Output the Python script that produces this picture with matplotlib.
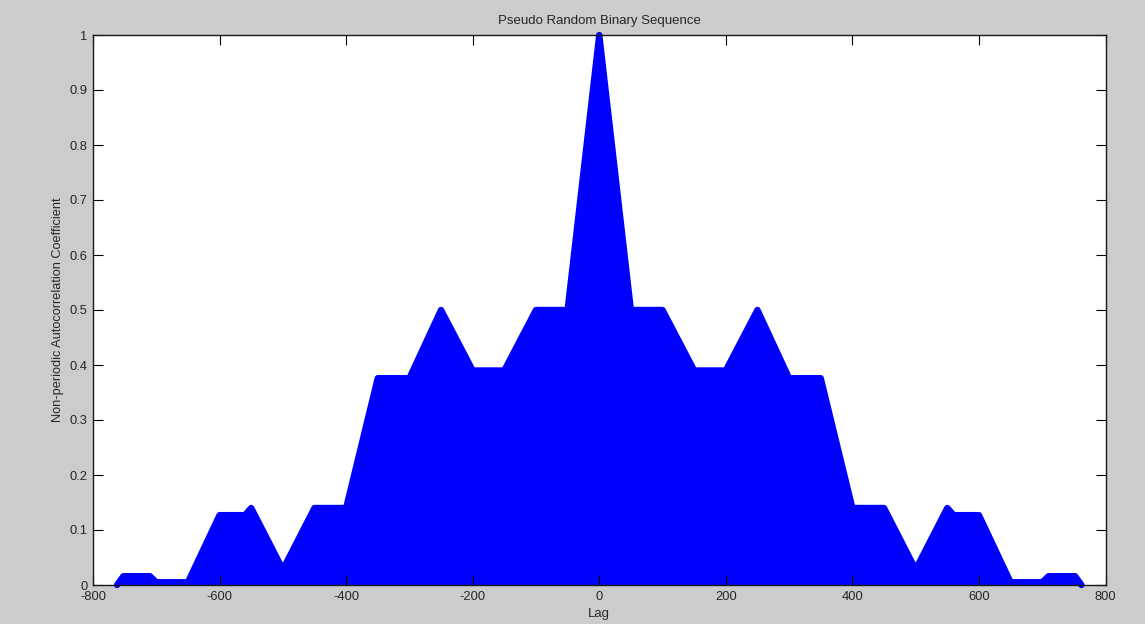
import matplotlib
matplotlib.use("Agg")
import matplotlib.pyplot as plt
import numpy as np

# Envelope breakpoints of the (symmetric) autocorrelation, positive lags
lag_bp = [0, 50, 100, 150, 200, 250, 300, 350, 400, 450, 500, 550, 560, 600, 650, 700, 710, 752, 762]
val_bp = [1.0, 0.5, 0.5, 0.39, 0.39, 0.5, 0.376, 0.376, 0.14, 0.14, 0.028, 0.14, 0.127, 0.127, 0.005, 0.005, 0.016, 0.016, 0.0]

x_ticks = [-800, -600, -400, -200, 0, 200, 400, 600, 800]
y_ticks = [0, 0.1, 0.2, 0.3, 0.4, 0.5, 0.6, 0.7, 0.8, 0.9, 1.0]
y_ticklabels = ["0", "0.1", "0.2", "0.3", "0.4", "0.5", "0.6", "0.7", "0.8", "0.9", "1"]

title = "Pseudo Random Binary Sequence"
xlabel = "Lag"
ylabel = "Non-periodic Autocorrelation Coefficient"

plt.rcParams['font.family'] = ['Liberation Sans', 'DejaVu Sans']

lags = np.concatenate([-np.array(lag_bp[:0:-1]), np.array(lag_bp)])
vals = np.concatenate([np.array(val_bp[:0:-1]), np.array(val_bp)])

fig = plt.figure(figsize=(11.45, 6.24), dpi=100, facecolor='#cccccc')
ax = fig.add_axes([93/1145, 1 - 585/624, (1105.5 - 93)/1145, (585 - 35)/624])
ax.set_facecolor('white')

blue = '#0000ff'
ax.fill_between(lags, vals, 0, color=blue, lw=0)
ax.plot(lags, vals, color=blue, lw=4.6, solid_capstyle='round',
        solid_joinstyle='round', clip_on=False, zorder=3)
ax.plot([lags[0], lags[-1]], [0, 0], color=blue, lw=1, zorder=3)

ax.set_xlim(-800, 800)
ax.set_ylim(0, 1)
ax.set_xticks(x_ticks)
ax.set_xticklabels([str(t) for t in x_ticks])
ax.set_yticks(y_ticks)
ax.set_yticklabels(y_ticklabels)
ax.tick_params(direction='in', length=7, width=0.8, top=True, right=True,
               labelsize=9.3, labelcolor='#262626')
ax.tick_params(axis='x', pad=4)
ax.tick_params(axis='y', pad=4)
for s in ax.spines.values():
    s.set_linewidth(1.0)
    s.set_color('#1a1a1a')
    s.set_zorder(4)

ax.set_title(title, fontsize=9.5, color='#262626', pad=8)
ax.set_xlabel(xlabel, fontsize=9.5, color='#262626', labelpad=4)
ax.set_ylabel(ylabel, fontsize=9.2, color='#262626', labelpad=4)

fig.savefig("out.png", dpi=100, facecolor=fig.get_facecolor())
